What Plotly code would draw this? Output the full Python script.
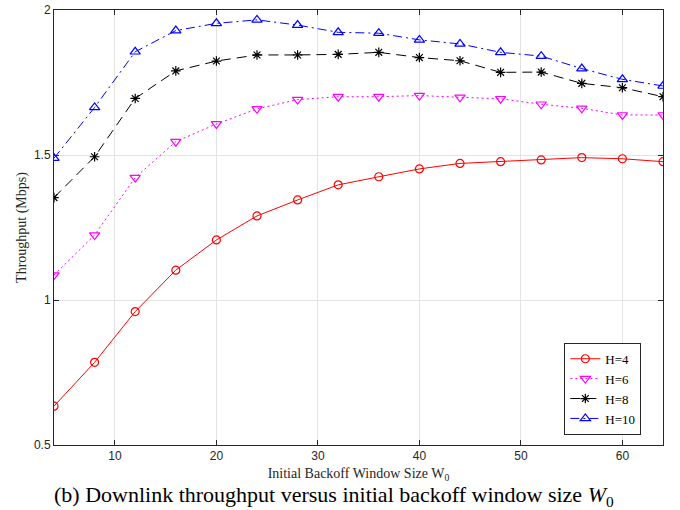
import plotly.graph_objects as go

w0 = [4, 8, 12, 16, 20, 24, 28, 32, 36, 40, 44, 48, 52, 56, 60, 64]
h4 = [0.634, 0.785, 0.960, 1.103, 1.207, 1.290, 1.345, 1.397, 1.425, 1.452, 1.471, 1.477, 1.483, 1.491, 1.487, 1.477]
h6 = [1.086, 1.224, 1.422, 1.546, 1.607, 1.659, 1.691, 1.701, 1.701, 1.705, 1.699, 1.694, 1.675, 1.661, 1.638, 1.638]
h8 = [1.353, 1.494, 1.695, 1.790, 1.824, 1.845, 1.845, 1.847, 1.854, 1.836, 1.825, 1.785, 1.786, 1.747, 1.732, 1.701]
h10 = [1.489, 1.664, 1.856, 1.929, 1.954, 1.966, 1.948, 1.923, 1.920, 1.897, 1.883, 1.854, 1.841, 1.798, 1.761, 1.738]
x_ticks = [10, 20, 30, 40, 50, 60]
y_ticks = [0.5, 1, 1.5, 2]

series = [
    ("H=4", h4, "#ff0000", "solid", "circle-open", 8),
    ("H=6", h6, "#ff00ff", "2px,3px", "triangle-down-open", 9),
    ("H=8", h8, "#000000", "10px,6px", "asterisk-open", 8),
    ("H=10", h10, "#0000ff", "9px,4px,2px,4px", "triangle-up-open", 9),
]

fig = go.Figure()
for name, ys, col, dash, sym, sz in series:
    fig.add_trace(go.Scatter(
        x=w0, y=ys, name=name, mode="lines+markers",
        line=dict(color=col, width=1, dash=dash),
        marker=dict(symbol=sym, size=sz, color=col, line=dict(color=col, width=1.2)),
    ))

axis_common = dict(
    showline=True, linecolor="#262626", linewidth=1, mirror="ticks",
    ticks="inside", ticklen=5, tickcolor="#262626",
    showgrid=True, gridcolor="#e3e3e3", gridwidth=1, zeroline=False,
    tickfont=dict(family="Liberation Sans, Arial", size=12, color="#262626"),
    automargin=False, ticklabeloverflow="allow",
)
title_font = dict(family="Liberation Serif, Times New Roman", size=14, color="#262626")

fig.update_xaxes(range=[4, 64], tickvals=x_ticks, **axis_common,
                 title=dict(text="Initial Backoff Window Size W<sub>0</sub>",
                            font=title_font, standoff=5))
fig.update_yaxes(range=[0.5, 2], tickvals=y_ticks, ticktext=["0.5", "1", "1.5", "2"], **axis_common,
                 title=dict(text="Throughput (Mbps)", font=title_font, standoff=4))

fig.add_annotation(
    text="(b) Downlink throughput versus initial backoff window size <i>W</i><sub>0</sub>",
    xref="paper", yref="paper", x=0.46, y=-0.117, xanchor="center", yanchor="middle",
    showarrow=False, font=dict(family="Liberation Serif, Times New Roman", size=22, color="#000000"))

fig.update_layout(
    width=680, height=510,
    margin=dict(l=54, r=17, t=10, b=65),
    paper_bgcolor="white", plot_bgcolor="white",
    showlegend=True,
    legend=dict(x=0.838, y=0.235, xanchor="left", yanchor="top",
                bgcolor="white", bordercolor="#262626", borderwidth=1,
                font=dict(family="Liberation Serif, Times New Roman", size=13, color="#000000"),
                tracegroupgap=0, itemwidth=30),
)

# remove the default 8px body margin so the chart fills the window like the reference
fig.write_html("out.html", config={"displayModeBar": False},
               post_script="document.body.style.margin='0';")
